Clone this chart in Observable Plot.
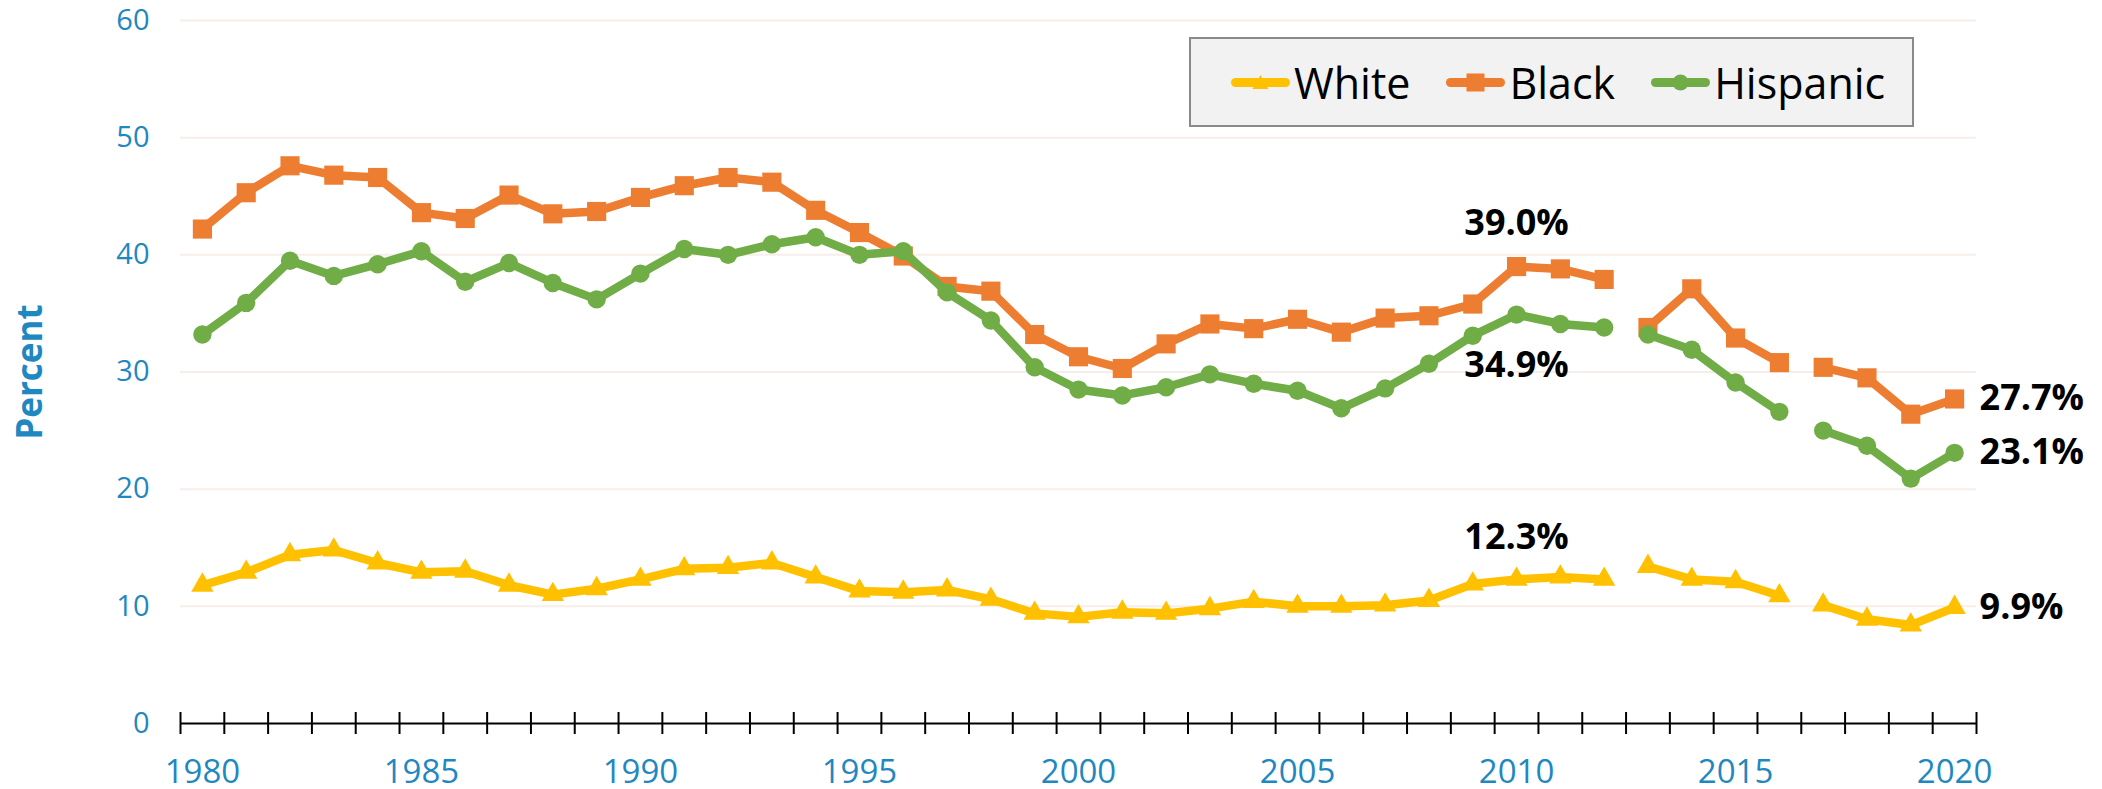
<!DOCTYPE html>
<html>
<head>
<meta charset="utf-8">
<script src="https://cdn.jsdelivr.net/npm/d3@7"></script>
<script src="https://cdn.jsdelivr.net/npm/@observablehq/plot@0.6"></script>
<style>
  body { margin: 0; background: #fff; }
  #wrap { position: relative; width: 2102px; height: 789px; font-family: "Open Sans", sans-serif; }
  #legend { position: absolute; left: 1189px; top: 37px; width: 725px; height: 90px; box-sizing: border-box;
            background: #f2f2f2; border: 2px solid #8a8a8a; display: flex; align-items: center;
            padding-left: 40px; gap: 36px; }
  .item { display: flex; align-items: center; }
  .item svg { margin-right: 4px; }
  .item span { font-size: 43px; color: #000; line-height: 1; }
</style>
</head>
<body>
<div id="wrap"><div id="chart"></div><div id="legend"></div></div>
<script>
// ---- data ----
const years = [1980,1981,1982,1983,1984,1985,1986,1987,1988,1989,1990,1991,1992,1993,1994,1995,1996,1997,1998,1999,
               2000,2001,2002,2003,2004,2005,2006,2007,2008,2009,2010,2011,2012,2013,2014,2015,2016,2017,2018,2019,2020];
const white    = [11.8,12.9,14.4,14.8,13.7,12.9,13.0,11.8,11.0,11.5,12.3,13.2,13.3,13.7,12.5,11.3,11.2,11.4,10.6,9.4,
                  9.1,9.5,9.4,9.8,10.4,10.0,10.0,10.1,10.5,11.9,12.3,12.5,12.3,13.4,12.3,12.1,10.9,10.1,8.9,8.4,9.9];
const black    = [42.2,45.3,47.6,46.8,46.6,43.6,43.1,45.1,43.5,43.7,44.9,45.9,46.6,46.2,43.8,41.9,39.9,37.3,36.9,33.2,
                  31.3,30.3,32.4,34.1,33.7,34.5,33.4,34.6,34.8,35.8,39.0,38.8,37.9,33.8,37.1,32.9,30.8,30.4,29.5,26.4,27.7];
const hispanic = [33.2,35.9,39.5,38.2,39.2,40.3,37.7,39.3,37.6,36.2,38.4,40.5,40.0,40.9,41.5,40.0,40.3,36.8,34.4,30.4,
                  28.5,28.0,28.7,29.8,29.0,28.4,26.9,28.6,30.7,33.1,34.9,34.1,33.8,33.2,31.9,29.1,26.6,25.0,23.7,20.9,23.1];
const seriesNames = ["White", "Black", "Hispanic"];
const segmentStarts = [1980, 2013, 2017];   // the lines break before these years
const xTickLabels = [1980, 1985, 1990, 1995, 2000, 2005, 2010, 2015, 2020];
const yTickLabels = [0, 10, 20, 30, 40, 50, 60];
const highlightYear = 2010;
const lastYear = 2020;

// ---- styles ----
const colors  = {White: "#FFC000", Black: "#ED7D31", Hispanic: "#70AD47"};
const symbols = {White: "triangle", Black: "square", Hispanic: "circle"};
const radii   = {White: 8.3, Black: 10.8, Hispanic: 9.2};
const blue = "#1f88c0";

const values = {White: white, Black: black, Hispanic: hispanic};
const segOf = y => segmentStarts.filter(s => y >= s).length;
const rows = seriesNames.flatMap(name => years.map((yr, i) => ({year: yr, race: name, value: values[name][i], seg: segOf(yr)})));
const boundaries = [...years.map(y => y - 0.5), years[years.length - 1] + 0.5];
const fmt = v => v.toFixed(1) + "%";

const seriesMarks = seriesNames.flatMap(name => {
  const d = rows.filter(r => r.race === name);
  return [
    Plot.line(d, {x: "year", y: "value", z: "seg", stroke: colors[name], strokeWidth: 8.5,
                  strokeLinejoin: "round", strokeLinecap: "round"}),
    Plot.dot(d, {x: "year", y: "value", symbol: symbols[name], r: radii[name], fill: colors[name], stroke: "none"})
  ];
});

const pick = (name, yr) => rows.filter(r => r.race === name && r.year === yr);
const annStyle = {x: "year", y: "value", text: d => fmt(d.value), fontSize: 36, fontWeight: "bold", fill: "#000"};

const chart = Plot.plot({
  width: 2102, height: 789,
  marginLeft: 180, marginRight: 126, marginTop: 20, marginBottom: 66,
  x: {domain: [boundaries[0], boundaries[boundaries.length - 1]]},
  y: {domain: [0, 60]},
  style: {fontFamily: "'Open Sans', sans-serif", background: "white", overflow: "visible"},
  marks: [
    Plot.ruleY(yTickLabels.filter(v => v > 0), {stroke: "#f8eee9", strokeWidth: 2}),
    Plot.ruleY([0], {stroke: "#000", strokeWidth: 2}),
    Plot.ruleX(boundaries, {y1: 0, y2: 0, insetTop: -11, insetBottom: -11, stroke: "#000", strokeWidth: 2}),
    Plot.axisX({ticks: xTickLabels, tickSize: 0, tickPadding: 36, tickFormat: d => String(d),
                fontSize: 33, color: blue, label: null}),
    Plot.axisY({ticks: yTickLabels, tickSize: 0, tickPadding: 31, fontSize: 29, color: blue, label: null}),
    Plot.text(["Percent"], {frameAnchor: "left", textAnchor: "middle", dx: -150, rotate: -90,
                            fontSize: 35, fontWeight: "bold", fill: blue}),
    ...seriesMarks,
    Plot.text(pick("Black", highlightYear), {...annStyle, dy: -43}),
    Plot.text(pick("Hispanic", highlightYear), {...annStyle, dy: 51}),
    Plot.text(pick("White", highlightYear), {...annStyle, dy: -42}),
    Plot.text(rows.filter(r => r.year === lastYear), {...annStyle, textAnchor: "start", dx: 25})
  ]
});
document.getElementById("chart").appendChild(chart);

// ---- legend ----
const legend = document.getElementById("legend");
for (const name of seriesNames) {
  const item = document.createElement("div");
  item.className = "item";
  const c = colors[name];
  let marker;
  if (name === "White") marker = `<path d="M29.5,12 L37.5,26 L21.5,26 Z" fill="${c}"/>`;
  else if (name === "Black") marker = `<rect x="20.5" y="10.5" width="18" height="18" fill="${c}"/>`;
  else marker = `<circle cx="29.5" cy="19.5" r="8" fill="${c}"/>`;
  item.innerHTML = `<svg width="59" height="39" viewBox="0 0 59 39"><line x1="4.5" y1="19.5" x2="54.5" y2="19.5" stroke="${c}" stroke-width="9" stroke-linecap="round"/>${marker}</svg><span>${name}</span>`;
  legend.appendChild(item);
}
</script>
</body>
</html>
